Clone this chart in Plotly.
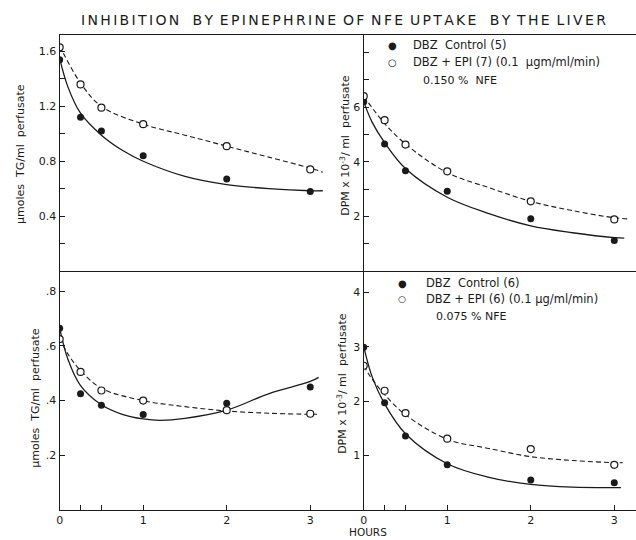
import plotly.graph_objects as go

# ---------------- data ----------------
hours = [0, 0.25, 0.5, 1, 2, 3]

# top-left: 0.150 % NFE, umoles TG/ml perfusate
tl_ctrl = [1.54, 1.12, 1.02, 0.84, 0.67, 0.58]
tl_epi = [1.63, 1.36, 1.19, 1.07, 0.91, 0.74]
tl_ctrl_fit_x = [0, 0.1, 0.25, 0.5, 0.75, 1, 1.5, 2, 2.5, 3, 3.15]
tl_ctrl_fit_y = [1.55, 1.34, 1.15, 0.99, 0.88, 0.80, 0.69, 0.63, 0.60, 0.585, 0.585]
tl_epi_fit_x = [0, 0.25, 0.5, 1, 1.5, 2, 2.5, 3, 3.15]
tl_epi_fit_y = [1.64, 1.37, 1.20, 1.07, 0.99, 0.91, 0.83, 0.75, 0.72]

# top-right: 0.150 % NFE, DPM x 10^-3/ml perfusate
tr_ctrl = [6.2, 4.65, 3.67, 2.92, 1.91, 1.12]
tr_epi = [6.4, 5.52, 4.63, 3.65, 2.55, 1.89]
tr_ctrl_fit_x = [0, 0.1, 0.25, 0.5, 1, 1.5, 2, 2.5, 3, 3.12]
tr_ctrl_fit_y = [6.2, 5.45, 4.7, 3.75, 2.7, 2.1, 1.65, 1.4, 1.22, 1.2]
tr_epi_fit_x = [0, 0.25, 0.5, 1, 1.5, 2, 2.5, 3, 3.19]
tr_epi_fit_y = [6.4, 5.4, 4.65, 3.6, 3.05, 2.55, 2.21, 1.95, 1.9]

# bottom-left: 0.075 % NFE, umoles TG/ml perfusate
bl_ctrl = [0.665, 0.425, 0.383, 0.349, 0.39, 0.45]
bl_epi = [0.625, 0.505, 0.437, 0.40, 0.365, 0.352]
bl_ctrl_fit_x = [0, 0.1, 0.25, 0.5, 0.75, 1, 1.2, 1.5, 2, 2.5, 3, 3.1]
bl_ctrl_fit_y = [0.665, 0.55, 0.455, 0.385, 0.35, 0.333, 0.328, 0.335, 0.365, 0.425, 0.47, 0.485]
bl_epi_fit_x = [0, 0.1, 0.25, 0.5, 1, 1.5, 2, 2.5, 3, 3.1]
bl_epi_fit_y = [0.63, 0.57, 0.51, 0.445, 0.40, 0.378, 0.362, 0.354, 0.35, 0.35]

# bottom-right: 0.075 % NFE, DPM x 10^-3/ml perfusate
br_ctrl = [2.99, 1.97, 1.36, 0.83, 0.55, 0.50]
br_epi = [2.65, 2.19, 1.78, 1.31, 1.12, 0.83]
br_ctrl_fit_x = [0, 0.1, 0.25, 0.5, 1, 1.5, 2, 2.5, 3, 3.08]
br_ctrl_fit_y = [3.0, 2.45, 1.95, 1.40, 0.85, 0.60, 0.47, 0.42, 0.41, 0.41]
br_epi_fit_x = [0, 0.08, 0.25, 0.5, 1, 1.5, 2, 2.5, 3, 3.1]
br_epi_fit_y = [2.65, 2.45, 2.12, 1.75, 1.3, 1.13, 0.98, 0.91, 0.87, 0.87]

x_tickvals = [0, 1, 2, 3]
x_ticktext = ["0", "1", "2", "3"]
x_minor = [0.25, 0.5]
tl_tickvals = [0.4, 0.8, 1.2, 1.6]
tl_ticktext = ["0.4", "0.8", "1.2", "1.6"]
tl_minor = [0.2, 0.6, 1.0, 1.4]
tr_tickvals = [2, 4, 6]
tr_ticktext = ["2", "4", "6"]
tr_minor = [1, 3, 5, 7, 8]
bl_tickvals = [0.2, 0.4, 0.6, 0.8]
bl_ticktext = [".2", ".4", ".6", ".8"]
br_tickvals = [1, 2, 3, 4]
br_ticktext = ["1", "2", "3", "4"]

title_words = ["INHIBITION", "BY", "EPINEPHRINE", "OF", "NFE", "UPTAKE", "BY", "THE", "LIVER"]
title_gaps = ["\u00a0\u00a0\u00a0", "\u00a0\u2006", "\u00a0\u2006", "\u00a0\u2006", "\u00a0\u2006",
              "\u00a0\u00a0\u00a0", "\u00a0\u2006", "\u00a0\u2006"]
ylab_tg = "\u03bcmoles\u00a0 TG/ml\u00a0 perfusate"
ylab_dpm = "DPM x 10<sup>-3</sup>/ ml\u00a0 perfusate"
legend_top = ["DBZ\u00a0 Control (5)", "DBZ + EPI (7) (0.1\u00a0 \u03bcgm/ml/min)", "0.150 %\u00a0 NFE"]
legend_bot = ["DBZ\u00a0 Control (6)", "DBZ + EPI (6) (0.1 \u03bcg/ml/min)", "0.075 % NFE"]

# spaced-out lettering for the title (stencil-style wide spacing)
title_text = "\u2006".join(title_words[0])
for gap, word in zip(title_gaps, title_words[1:]):
    title_text += gap + "\u2006".join(word)

# ---------------- figure ----------------
INK = "#1a1a1a"
FONT = "DejaVu Sans"
W, H = 636, 540

fig = go.Figure()

panels = [
    ("x", "y", tl_ctrl, tl_epi, tl_ctrl_fit_x, tl_ctrl_fit_y, tl_epi_fit_x, tl_epi_fit_y),
    ("x2", "y2", tr_ctrl, tr_epi, tr_ctrl_fit_x, tr_ctrl_fit_y, tr_epi_fit_x, tr_epi_fit_y),
    ("x3", "y3", bl_ctrl, bl_epi, bl_ctrl_fit_x, bl_ctrl_fit_y, bl_epi_fit_x, bl_epi_fit_y),
    ("x4", "y4", br_ctrl, br_epi, br_ctrl_fit_x, br_ctrl_fit_y, br_epi_fit_x, br_epi_fit_y),
]

for xa, ya, ctrl, epi, cfx, cfy, efx, efy in panels:
    fig.add_trace(go.Scatter(x=cfx, y=cfy, mode="lines", line=dict(color=INK, width=1.3, shape="spline"),
                             xaxis=xa, yaxis=ya, showlegend=False, hoverinfo="skip"))
    fig.add_trace(go.Scatter(x=efx, y=efy, mode="lines",
                             line=dict(color=INK, width=1.1, dash="5px,3px", shape="spline"),
                             xaxis=xa, yaxis=ya, showlegend=False, hoverinfo="skip"))
    fig.add_trace(go.Scatter(x=hours, y=ctrl, mode="markers",
                             marker=dict(size=7, color=INK, line=dict(width=0)),
                             xaxis=xa, yaxis=ya, showlegend=False))
    fig.add_trace(go.Scatter(x=hours, y=epi, mode="markers",
                             marker=dict(size=7, color="white", line=dict(width=1.2, color=INK)),
                             xaxis=xa, yaxis=ya, showlegend=False))

def px_x(p):
    return p / W

def px_y(p):
    return 1 - p / H

XL = [px_x(56), px_x(362)]
XR = [px_x(362), 1.0]
YT = [px_y(271), px_y(35)]
YB = [px_y(510), px_y(271)]

axis_common = dict(showline=True, linecolor=INK, linewidth=1.3, showgrid=False, zeroline=False,
                   tickfont=dict(family=FONT, size=11, color=INK), tickcolor=INK)

def minor_ticks(vals):
    return dict(tickmode="array", tickvals=vals, ticks="inside", ticklen=5, tickcolor=INK, showgrid=False)

fig.update_layout(
    width=W, height=H, margin=dict(l=0, r=0, t=0, b=0),
    paper_bgcolor="white", plot_bgcolor="white", showlegend=False,
    xaxis=dict(domain=XL, range=[0, 3.64], anchor="y", mirror=True, ticks="", showticklabels=False, **axis_common),
    xaxis2=dict(domain=XR, range=[0, 3.26], anchor="y2", mirror=True, ticks="", showticklabels=False, **axis_common),
    xaxis3=dict(domain=XL, range=[0, 3.64], anchor="y3", ticks="inside", ticklen=5,
                tickvals=x_tickvals, ticktext=x_ticktext, minor=minor_ticks(x_minor), **axis_common),
    xaxis4=dict(domain=XR, range=[0, 3.26], anchor="y4", ticks="inside", ticklen=5,
                tickvals=x_tickvals, ticktext=x_ticktext, minor=minor_ticks(x_minor), **axis_common),
    yaxis=dict(domain=YT, range=[0, 1.72], anchor="x", ticks="inside", ticklen=5,
               tickvals=tl_tickvals, ticktext=tl_ticktext, minor=minor_ticks(tl_minor), **axis_common),
    yaxis2=dict(domain=YT, range=[0, 8.64], anchor="x2", ticks="inside", ticklen=5,
                tickvals=tr_tickvals, ticktext=tr_ticktext, minor=minor_ticks(tr_minor), **axis_common),
    yaxis3=dict(domain=YB, range=[0, 0.874], anchor="x3", ticks="inside", ticklen=5,
                tickvals=bl_tickvals, ticktext=bl_ticktext, **axis_common),
    yaxis4=dict(domain=YB, range=[0, 4.39], anchor="x4", ticks="inside", ticklen=5,
                tickvals=br_tickvals, ticktext=br_ticktext, **axis_common),
)

ann = []
def add_text(text, xp, yp, size=11, angle=0, xanchor="center", yanchor="middle"):
    ann.append(dict(text=text, x=px_x(xp), y=px_y(yp), xref="paper", yref="paper", showarrow=False,
                    textangle=angle, xanchor=xanchor, yanchor=yanchor,
                    font=dict(family=FONT, size=size, color=INK)))

add_text(title_text, 342, 20, size=14)
add_text(ylab_tg, 16, 154, size=11, angle=-90)
add_text(ylab_tg, 31, 398, size=11, angle=-90)
add_text(ylab_dpm, 343, 145, size=11, angle=-90)
add_text(ylab_dpm, 340, 383, size=11, angle=-90)
add_text("HOURS", 366, 532, size=10.5)

# legend blocks
add_text("\u25cf", 391, 45, size=10)
add_text(legend_top[0], 410, 45, size=11.5, xanchor="left")
add_text("\u25cb", 391, 62, size=10)
add_text(legend_top[1], 410, 62, size=11.5, xanchor="left")
add_text(legend_top[2], 420, 80, size=11, xanchor="left")

add_text("\u25cf", 401, 283, size=10)
add_text(legend_bot[0], 423, 283, size=11.5, xanchor="left")
add_text("\u25cb", 401, 299, size=9)
add_text(legend_bot[1], 423, 299, size=11.5, xanchor="left")
add_text(legend_bot[2], 433, 316, size=11, xanchor="left")

fig.update_layout(annotations=ann)
fig.write_html("out.html", config={"displayModeBar": False},
               post_script="document.body.style.margin='0';")
